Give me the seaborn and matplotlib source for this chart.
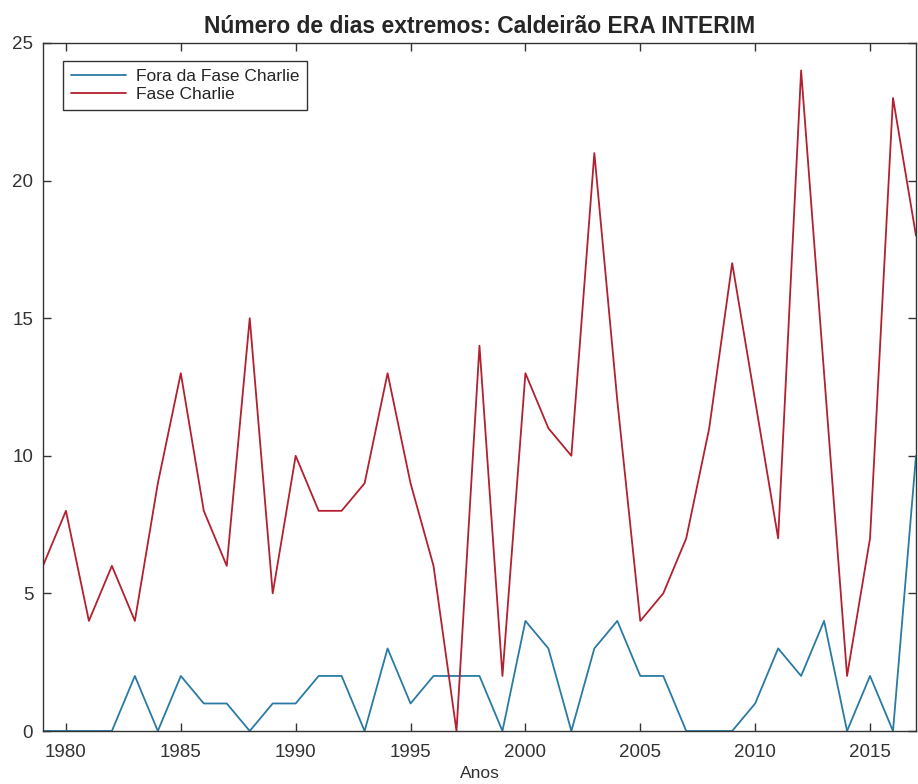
import matplotlib
matplotlib.use("Agg")
import matplotlib.pyplot as plt
import seaborn as sns
import pandas as pd

# Annual counts of extreme days, 1979-2017
anos = list(range(1979, 2018))
fora_fase_charlie = [0, 0, 0, 0, 2, 0, 2, 1, 1, 0,
                     1, 1, 2, 2, 0, 3, 1, 2, 2, 2,
                     0, 4, 3, 0, 3, 4, 2, 2, 0, 0,
                     0, 1, 3, 2, 4, 0, 2, 0, 10]
fase_charlie = [6, 8, 4, 6, 4, 9, 13, 8, 6, 15,
                5, 10, 8, 8, 9, 13, 9, 6, 0, 14,
                2, 13, 11, 10, 21, 12, 4, 5, 7, 11,
                17, 12, 7, 24, 13, 2, 7, 23, 18]
serie_nomes = ["Fora da Fase Charlie", "Fase Charlie"]
x_ticks = [1980, 1985, 1990, 1995, 2000, 2005, 2010, 2015]
y_ticks = [0, 5, 10, 15, 20, 25]

df = pd.DataFrame({
    "Anos": anos * 2,
    "Dias": fora_fase_charlie + fase_charlie,
    "Serie": [serie_nomes[0]] * len(anos) + [serie_nomes[1]] * len(anos),
})

sns.set_style("ticks")
plt.rcParams["font.family"] = ["Liberation Sans", "DejaVu Sans"]

fig = plt.figure(figsize=(9.18, 7.84), dpi=100)
ax = fig.add_axes([0.0468, 0.0676, 0.9510, 0.8776])

palette = {serie_nomes[0]: "#2a7ba3", serie_nomes[1]: "#b3202f"}
sns.lineplot(data=df, x="Anos", y="Dias", hue="Serie", hue_order=serie_nomes,
             palette=palette, linewidth=1.3, ax=ax)

ax.set_xlim(1979, 2017)
ax.set_ylim(0, 25)
ax.set_xticks(x_ticks)
ax.set_yticks(y_ticks)
ax.tick_params(axis="both", direction="in", length=6, width=1.0,
               top=True, right=True, labelsize=13.5, colors="#333333",
               pad=7)
ax.tick_params(axis="x", pad=9)
for side in ["left", "right", "top", "bottom"]:
    ax.spines[side].set_visible(True)
    ax.spines[side].set_color("#333333")
    ax.spines[side].set_linewidth(1.0)

ax.set_xlabel("Anos", fontsize=12.5, color="#333333", labelpad=4)
ax.set_ylabel("")
ax.set_title("Número de dias extremos: Caldeirão ERA INTERIM",
             fontsize=16.5, fontweight="bold", pad=7)

leg = ax.legend(loc="upper left", bbox_to_anchor=(0.023, 0.974),
                borderaxespad=0, fontsize=12.5, handlelength=3.2,
                handletextpad=0.55, labelspacing=0.2, borderpad=0.45,
                fancybox=False, frameon=True, title=None)
leg.get_frame().set_edgecolor("#333333")
leg.get_frame().set_linewidth(1.0)
leg.get_frame().set_alpha(1.0)

fig.savefig("out.png", dpi=100)
